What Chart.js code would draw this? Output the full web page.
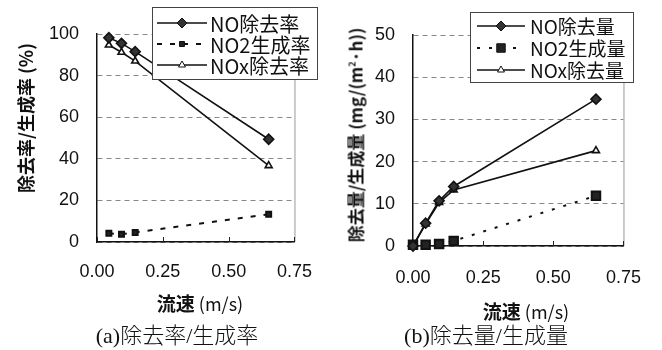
<!DOCTYPE html>
<html>
<head>
<meta charset="utf-8">
<script src="https://cdn.jsdelivr.net/npm/chart.js@4.4.1/dist/chart.umd.min.js"></script>
<style>
  body { margin: 0; background: #fff; }
  #wrap { position: relative; width: 662px; height: 350px; overflow: hidden; }
  canvas { position: absolute; top: 0; }
  .txt { position: absolute; color: #111; white-space: nowrap; font-family: "Noto Sans CJK JP", "Liberation Sans", sans-serif; }
  .ytitle { transform: translate(-50%, -50%) rotate(-90deg); font-weight: bold; }
  .xtitle { transform: translate(-50%, -50%); font-size: 18px; }
  .xtitle b { font-weight: bold; font-size: 19px; }
  .cap { transform: translate(-50%, -50%); font-size: 22px; font-weight: 300; font-family: "Liberation Serif", "Noto Sans CJK JP", serif; }
  sup { font-size: 9px; }
</style>
</head>
<body>
<div id="wrap">
  <canvas id="rateChart" width="331" height="350" style="left:0"></canvas>
  <canvas id="amountChart" width="331" height="350" style="left:331px"></canvas>

  <div class="txt ytitle" style="left:25px; top:118px; font-size:18px;">除去率/生成率 (%)</div>
  <div class="txt ytitle" style="left:355px; top:135px; font-size:17px;">除去量/生成量 (mg/(m<sup>2</sup>·h))</div>
  <div class="txt xtitle" style="left:200px; top:302px;"><b>流速</b> (m/s)</div>
  <div class="txt xtitle" style="left:526px; top:310px;"><b>流速</b> (m/s)</div>
  <div class="txt cap" style="left:177px; top:333px;">(a)除去率/生成率</div>
  <div class="txt cap" style="left:486px; top:333px;">(b)除去量/生成量</div>
</div>

<script>
// flow speed (m/s)
const rateSpeeds = [0.045, 0.093, 0.145, 0.652]
const amountSpeeds = [0, 0.045, 0.093, 0.145, 0.652]

// (a) removal / generation rate (%)
const noRemovalRate = [98.2, 95.5, 91.5, 49.4]
const no2GenRate = [4.2, 3.7, 4.6, 13.3]
const noxRemovalRate = [94.7, 91.2, 87.0, 36.7]

// (b) removal / generation amount (mg/(m2*h))
const noRemovalAmt = [0, 5.4, 10.7, 14.1, 34.8]
const no2GenAmt = [0.3, 0.3, 0.5, 1.2, 11.9]
const noxRemovalAmt = [0, 5.2, 10.3, 13.3, 22.6]

const rateLabels = ["NO除去率", "NO2生成率", "NOx除去率"]
const amountLabels = ["NO除去量", "NO2生成量", "NOx除去量"]
const xTicks = [0, 0.25, 0.5, 0.75]

function pts(xs, ys) {
  return xs.map((x, i) => ({ x: x, y: ys[i] }))
}

// gray frame on the right side plus small inward x ticks
const framePlugin = {
  id: "frame",
  beforeDatasetsDraw(chart) {
    const { ctx, chartArea: a, scales } = chart
    ctx.save()
    ctx.strokeStyle = "#999"
    ctx.lineWidth = 1
    ctx.beginPath()
    ctx.moveTo(a.right + 0.5, a.top)
    ctx.lineTo(a.right + 0.5, a.bottom)
    ctx.stroke()
    ctx.strokeStyle = "#222"
    ctx.beginPath()
    scales.x.ticks.forEach(t => {
      const px = Math.round(scales.x.getPixelForValue(t.value)) + 0.5
      ctx.moveTo(px, a.bottom)
      ctx.lineTo(px, a.bottom - 5)
    })
    ctx.stroke()
    ctx.restore()
  }
}

// boxed legend drawn over the plot like the original
const boxLegend = {
  id: "boxLegend",
  afterDraw(chart, args, o) {
    const ctx = chart.ctx
    ctx.save()
    ctx.fillStyle = "#fff"
    ctx.fillRect(o.x, o.y, o.w, o.h)
    ctx.strokeStyle = "#444"
    ctx.lineWidth = 1
    ctx.strokeRect(o.x + 0.5, o.y + 0.5, o.w, o.h)
    chart.data.datasets.forEach((ds, i) => {
      const cy = o.rows[i]
      ctx.strokeStyle = "#111"
      ctx.lineWidth = ds.borderWidth
      ctx.setLineDash(ds.borderDash || [])
      ctx.beginPath()
      ctx.moveTo(o.lineX0, cy)
      ctx.lineTo(o.lineX1, cy)
      ctx.stroke()
      ctx.setLineDash([])
      ctx.fillStyle = ds.pointBackgroundColor
      ctx.strokeStyle = ds.pointBorderColor
      ctx.lineWidth = 1
      Chart.helpers.drawPoint(ctx, {
        pointStyle: ds.pointStyle,
        radius: ds.pointRadius,
        rotation: 0,
        borderWidth: 1
      }, (o.lineX0 + o.lineX1) / 2, cy)
      ctx.fillStyle = "#111"
      ctx.font = o.font
      ctx.textBaseline = "middle"
      ctx.fillText(ds.label, o.textX, cy + 1)
    })
    ctx.restore()
  }
}

function makeDatasets(labels, xs, a, b, c, sqRadius, dash) {
  return [
    {
      label: labels[0], data: pts(xs, a),
      borderColor: "#111", borderWidth: 1.6,
      pointStyle: "rectRot", pointRadius: 5,
      pointBackgroundColor: "#333", pointBorderColor: "#111"
    },
    {
      label: labels[1], data: pts(xs, b),
      borderColor: "#111", borderWidth: 2, borderDash: dash,
      pointStyle: "rect", pointRadius: sqRadius,
      pointBackgroundColor: "#222", pointBorderColor: "#111"
    },
    {
      label: labels[2], data: pts(xs, c),
      borderColor: "#111", borderWidth: 1.6,
      pointStyle: "triangle", pointRadius: 4,
      pointBackgroundColor: "#fff", pointBorderColor: "#111"
    }
  ]
}

function makeChart(id, datasets, yMax, yStep, yWidth, xHeight, pad, xPad, legend) {
  const tickFont = { family: "'Liberation Sans', Arial, sans-serif", size: 18 }
  return new Chart(document.getElementById(id), {
    type: "line",
    data: { datasets: datasets },
    options: {
      responsive: false,
      animation: false,
      clip: false,
      layout: { padding: pad },
      elements: { line: { tension: 0 }, point: { borderWidth: 1 } },
      scales: {
        x: {
          type: "linear", min: 0, max: 0.75,
          afterBuildTicks: s => { s.ticks = xTicks.map(v => ({ value: v })) },
          afterFit: s => { s.height = xHeight },
          ticks: { font: tickFont, color: "#111", padding: xPad, maxRotation: 0,
                   callback: v => v.toFixed(2) },
          grid: { display: false, drawTicks: false },
          border: { display: true, color: "#111", width: 1.5 }
        },
        y: {
          min: 0, max: yMax,
          afterFit: s => { s.width = yWidth },
          ticks: { font: tickFont, color: "#111", padding: 18, stepSize: yStep },
          grid: { color: "#888", lineWidth: 1, drawTicks: false },
          border: { display: true, color: "#111", width: 1.5, dash: [5, 4] }
        }
      },
      plugins: {
        legend: { display: false },
        tooltip: { enabled: false },
        boxLegend: legend
      }
    },
    plugins: [framePlugin, boxLegend]
  })
}

makeChart("rateChart",
  makeDatasets(rateLabels, rateSpeeds, noRemovalRate, no2GenRate, noxRemovalRate, 3.5, [5, 8]),
  100, 20, 97, 108, { top: 34, right: 29, left: 0, bottom: 0 }, 19,
  { x: 152, y: 7, w: 165, h: 72, rows: [23, 44, 65], lineX0: 157, lineX1: 207, textX: 210,
    font: "20px 'Noto Sans CJK JP', sans-serif" })

makeChart("amountChart",
  makeDatasets(amountLabels, amountSpeeds, noRemovalAmt, no2GenAmt, noxRemovalAmt, 6, [3, 9]),
  50, 10, 82, 104, { top: 35, right: 28, left: 0, bottom: 0 }, 21,
  { x: 139, y: 12, w: 163, h: 70, rows: [26, 48, 70], lineX0: 146, lineX1: 194, textX: 199,
    font: "19px 'Noto Sans CJK JP', sans-serif" })
</script>
</body>
</html>
